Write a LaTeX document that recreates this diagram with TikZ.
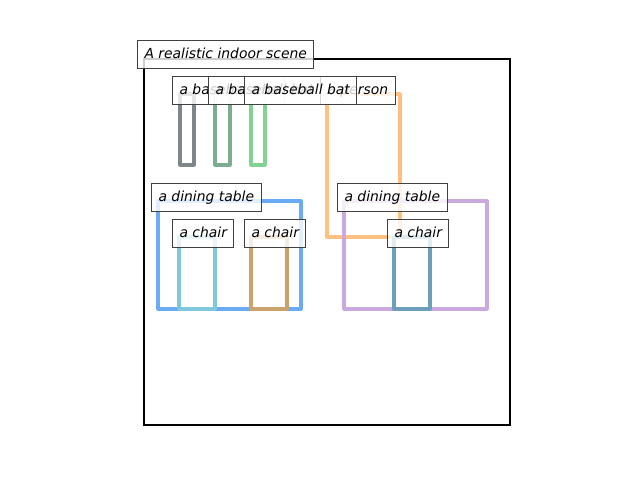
\documentclass[tikz,border=0pt]{standalone}
\usepackage{fontspec}
\setmainfont{DejaVu Sans}
\definecolor{batA}{RGB}{125,135,138}
\definecolor{batB}{RGB}{125,172,145}
\definecolor{batC}{RGB}{130,210,148}
\definecolor{persC}{RGB}{255,192,130}
\definecolor{tabA}{RGB}{105,172,245}
\definecolor{chA}{RGB}{130,200,220}
\definecolor{chB}{RGB}{202,162,108}
\definecolor{tabB}{RGB}{202,170,222}
\definecolor{chC}{RGB}{108,160,186}
\begin{document}
\begin{tikzpicture}[x=1pt,y=-1pt,
  obj/.style={line width=3.2pt,line join=round},
  lab/.style={draw=black!75,line width=1pt,fill=white,fill opacity=0.8,text opacity=1,
    anchor=west,inner xsep=7pt,inner ysep=0pt,minimum height=28pt,
    text height=11pt,text depth=3pt,
    font=\fontsize{13.9}{16}\selectfont\itshape}]
\useasboundingbox (0,0) rectangle (640,480);
% scene frame
\draw[line width=2.5pt] (144,59) rectangle (510,425);
% objects
\draw[obj,batA] (180,94) rectangle (194,165);
\draw[obj,batB] (215,94) rectangle (230,165);
\draw[obj,batC] (251,94) rectangle (265,165);
\draw[obj,persC] (327,94) rectangle (400,237);
\draw[obj,tabA] (158,201) rectangle (301,309);
\draw[obj,chA] (179,237) rectangle (215,309);
\draw[obj,chB] (251,237) rectangle (287,309);
\draw[obj,tabB] (344,201) rectangle (487,309);
\draw[obj,chC] (394,237) rectangle (430,309);
% labels
\node[lab] (title) at (137,54) {A realistic indoor scene};
\node[lab] (lperson) at (320,90) {a person};
\node[lab] (lbat1) at (172,90) {a baseball bat};
\node[lab] (lbat2) at (208,90) {a baseball bat};
\node[lab] (lbat3) at (244,90) {a baseball bat};
\node[lab] (ltab1) at (151,197) {a dining table};
\node[lab] (lch1) at (172,233) {a chair};
\node[lab] (lch2) at (244,233) {a chair};
\node[lab] (ltab2) at (337,197) {a dining table};
\node[lab] (lch3) at (387,233) {a chair};
\end{tikzpicture}
\end{document}
